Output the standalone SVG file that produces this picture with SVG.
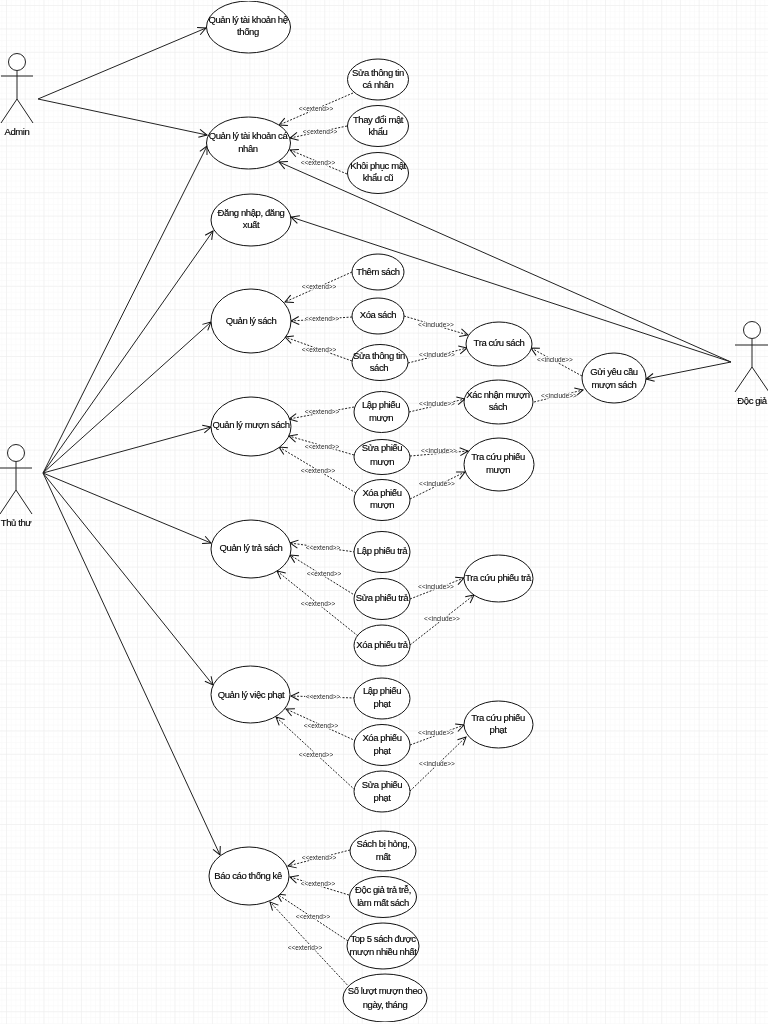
<svg xmlns="http://www.w3.org/2000/svg" width="768" height="1024" viewBox="0 0 768 1024">
<defs>
<pattern id="g" width="4.68" height="5.85" patternUnits="userSpaceOnUse" patternTransform="translate(7 6)"><path d="M4.68 0V5.85H0" fill="none" stroke="#f8f8f8" stroke-width="1"/></pattern>
<pattern id="G" width="18.72" height="23.4" patternUnits="userSpaceOnUse" patternTransform="translate(7 6)"><path d="M18.72 0V23.4H0" fill="none" stroke="#ebebeb" stroke-width="1"/></pattern>
<marker id="a" markerWidth="12" markerHeight="12" refX="9" refY="5" orient="auto" markerUnits="userSpaceOnUse"><path d="M1 1L9 5L1 9" fill="none" stroke="#111" stroke-width="1"/></marker>
<filter id="b" x="0" y="0" width="100%" height="100%"><feGaussianBlur stdDeviation="0.35"/></filter>
</defs>
<style>
.u ellipse{fill:#fff;stroke:#111;stroke-width:1}
text{font-family:"Liberation Sans",Arial,sans-serif;font-size:9.5px;letter-spacing:-.4px;fill:#000;stroke:#000;stroke-width:.15px;text-anchor:middle}
.s{stroke:#222;stroke-width:1;fill:none;marker-end:url(#a)}
.d{stroke:#222;stroke-width:1;stroke-dasharray:2 1.5;fill:none;marker-end:url(#a)}
text.l{font-size:6.5px;letter-spacing:0;fill:#222;paint-order:stroke;stroke:#fff;stroke-width:1.5px}
.p{stroke:#222;stroke-width:1;fill:none}
.p circle{fill:#fff}
</style>
<rect width="768" height="1024" fill="#fff"/>
<rect width="768" height="1024" fill="url(#g)"/>
<rect width="768" height="1024" fill="url(#G)"/>
<g filter="url(#b)">
<g id="connectors">
<line class="s" x1="38" y1="99" x2="206" y2="28"/>
<line class="s" x1="38" y1="99" x2="207" y2="135"/>
<line class="s" x1="43" y1="473" x2="207" y2="146"/>
<line class="s" x1="43" y1="473" x2="213" y2="231"/>
<line class="s" x1="43" y1="473" x2="211" y2="322"/>
<line class="s" x1="43" y1="473" x2="211" y2="427"/>
<line class="s" x1="43" y1="473" x2="211" y2="543"/>
<line class="s" x1="43" y1="473" x2="213" y2="685"/>
<line class="s" x1="43" y1="473" x2="220" y2="855"/>
<line class="s" x1="731" y1="362" x2="279" y2="162"/>
<line class="s" x1="731" y1="362" x2="291" y2="217"/>
<line class="s" x1="731" y1="362" x2="646" y2="379"/>
<line class="d" x1="353" y1="93" x2="279" y2="125"/><text class="l" x="316" y="111">&lt;&lt;extend&gt;&gt;</text>
<line class="d" x1="347" y1="126" x2="290" y2="138"/><text class="l" x="320" y="134">&lt;&lt;extend&gt;&gt;</text>
<line class="d" x1="347" y1="174" x2="290" y2="150"/><text class="l" x="318" y="165">&lt;&lt;extend&gt;&gt;</text>
<line class="d" x1="352" y1="272" x2="285" y2="302"/><text class="l" x="319" y="289">&lt;&lt;extend&gt;&gt;</text>
<line class="d" x1="352" y1="317" x2="291" y2="321"/><text class="l" x="322" y="321">&lt;&lt;extend&gt;&gt;</text>
<line class="d" x1="352" y1="361" x2="285" y2="337"/><text class="l" x="319" y="352">&lt;&lt;extend&gt;&gt;</text>
<line class="d" x1="354" y1="407" x2="289" y2="419"/><text class="l" x="322" y="414">&lt;&lt;extend&gt;&gt;</text>
<line class="d" x1="354" y1="455" x2="289" y2="436"/><text class="l" x="322" y="449">&lt;&lt;extend&gt;&gt;</text>
<line class="d" x1="356" y1="493" x2="279" y2="447"/><text class="l" x="318" y="473">&lt;&lt;extend&gt;&gt;</text>
<line class="d" x1="355" y1="552" x2="290" y2="543"/><text class="l" x="323" y="550">&lt;&lt;extend&gt;&gt;</text>
<line class="d" x1="356" y1="596" x2="290" y2="555"/><text class="l" x="324" y="576">&lt;&lt;extend&gt;&gt;</text>
<line class="d" x1="358" y1="636" x2="277" y2="571"/><text class="l" x="318" y="606">&lt;&lt;extend&gt;&gt;</text>
<line class="d" x1="355" y1="698" x2="291" y2="696"/><text class="l" x="323" y="699">&lt;&lt;extend&gt;&gt;</text>
<line class="d" x1="356" y1="741" x2="286" y2="709"/><text class="l" x="321" y="728">&lt;&lt;extend&gt;&gt;</text>
<line class="d" x1="355" y1="790" x2="276" y2="717"/><text class="l" x="316" y="757">&lt;&lt;extend&gt;&gt;</text>
<line class="d" x1="350" y1="850" x2="288" y2="866"/><text class="l" x="319" y="860">&lt;&lt;extend&gt;&gt;</text>
<line class="d" x1="349" y1="895" x2="290" y2="877"/><text class="l" x="318" y="886">&lt;&lt;extend&gt;&gt;</text>
<line class="d" x1="348" y1="941" x2="277" y2="894"/><text class="l" x="313" y="919">&lt;&lt;extend&gt;&gt;</text>
<line class="d" x1="352" y1="990" x2="270" y2="902"/><text class="l" x="305" y="950">&lt;&lt;extend&gt;&gt;</text>
<line class="d" x1="404" y1="316" x2="468" y2="335"/><text class="l" x="436" y="327">&lt;&lt;include&gt;&gt;</text>
<line class="d" x1="408" y1="363" x2="467" y2="348"/><text class="l" x="437" y="357">&lt;&lt;include&gt;&gt;</text>
<line class="d" x1="409" y1="412" x2="465" y2="399"/><text class="l" x="437" y="406">&lt;&lt;include&gt;&gt;</text>
<line class="d" x1="534" y1="402" x2="583" y2="390"/><text class="l" x="559" y="398">&lt;&lt;include&gt;&gt;</text>
<line class="d" x1="582" y1="376" x2="531" y2="348"/><text class="l" x="555" y="362">&lt;&lt;include&gt;&gt;</text>
<line class="d" x1="410" y1="456" x2="468" y2="451"/><text class="l" x="439" y="453">&lt;&lt;include&gt;&gt;</text>
<line class="d" x1="410" y1="499" x2="465" y2="472"/><text class="l" x="437" y="486">&lt;&lt;include&gt;&gt;</text>
<line class="d" x1="410" y1="599" x2="464" y2="578"/><text class="l" x="436" y="589">&lt;&lt;include&gt;&gt;</text>
<line class="d" x1="410" y1="645" x2="474" y2="595"/><text class="l" x="442" y="621">&lt;&lt;include&gt;&gt;</text>
<line class="d" x1="410" y1="745" x2="464" y2="725"/><text class="l" x="436" y="735">&lt;&lt;include&gt;&gt;</text>
<line class="d" x1="410" y1="791" x2="466" y2="737"/><text class="l" x="437" y="766">&lt;&lt;include&gt;&gt;</text>
</g>
<g id="admin" class="p"><circle cx="17" cy="62" r="8.5"/><path d="M17 71V99M1 76H33M17 99L1 123M17 99L33 123"/></g><text x="17" y="135">Admin</text>
<g id="thu-thu" class="p"><circle cx="16" cy="453" r="8.5"/><path d="M16 462V490M0 468H32M16 490L0 514M16 490L32 514"/></g><text x="16" y="526">Thủ thư</text>
<g id="doc-gia" class="p"><circle cx="752" cy="330" r="8.5"/><path d="M752 339V367M735 345H768M752 367L735 392M752 367L769 392"/></g><text x="752" y="404">Độc giả</text>
<g id="uc1" class="u"><ellipse cx="248.5" cy="27" rx="42" ry="26"/><text x="248" y="23">Quản lý tài khoản hệ</text><text x="248" y="35">thống</text></g>
<g id="uc2" class="u"><ellipse cx="248.5" cy="143" rx="42" ry="26"/><text x="248" y="139">Quản lý tài khoản cá</text><text x="248" y="152">nhân</text></g>
<g id="uc3" class="u"><ellipse cx="251" cy="220" rx="40" ry="26"/><text x="251" y="216">Đăng nhập, đăng</text><text x="251" y="228">xuất</text></g>
<g id="uc4" class="u"><ellipse cx="251" cy="321" rx="40" ry="32"/><text x="251" y="324">Quản lý sách</text></g>
<g id="uc5" class="u"><ellipse cx="251" cy="426.5" rx="40" ry="29.5"/><text x="251" y="428">Quản lý mượn sách</text></g>
<g id="uc6" class="u"><ellipse cx="251" cy="549" rx="40" ry="29"/><text x="251" y="551">Quản lý trả sách</text></g>
<g id="uc7" class="u"><ellipse cx="250.5" cy="694.5" rx="39.5" ry="28.5"/><text x="251" y="698">Quản lý việc phạt</text></g>
<g id="uc8" class="u"><ellipse cx="249" cy="876" rx="40" ry="29"/><text x="248" y="879">Báo cáo thống kê</text></g>
<g id="uc9" class="u"><ellipse cx="378" cy="79.5" rx="30.5" ry="20.5"/><text x="378" y="76">Sửa thông tin</text><text x="378" y="88">cá nhân</text></g>
<g id="uc10" class="u"><ellipse cx="378" cy="126" rx="30.5" ry="20.5"/><text x="378" y="123">Thay đổi mật</text><text x="378" y="135">khẩu</text></g>
<g id="uc11" class="u"><ellipse cx="378" cy="173" rx="30.5" ry="20.5"/><text x="378" y="169">Khôi phục mật</text><text x="378" y="181">khẩu cũ</text></g>
<g id="uc12" class="u"><ellipse cx="378" cy="272" rx="26" ry="18"/><text x="378" y="275">Thêm sách</text></g>
<g id="uc13" class="u"><ellipse cx="378" cy="316" rx="26" ry="18"/><text x="378" y="318">Xóa sách</text></g>
<g id="uc14" class="u"><ellipse cx="380" cy="362.5" rx="28" ry="18"/><text x="379" y="359">Sửa thông tin</text><text x="379" y="371">sách</text></g>
<g id="uc15" class="u"><ellipse cx="381.5" cy="412" rx="27.5" ry="20.5"/><text x="381" y="408">Lập phiếu</text><text x="381" y="421">mượn</text></g>
<g id="uc16" class="u"><ellipse cx="382" cy="457" rx="28" ry="17.5"/><text x="382" y="451">Sửa phiếu</text><text x="382" y="465">mượn</text></g>
<g id="uc17" class="u"><ellipse cx="382" cy="500" rx="28" ry="20.5"/><text x="382" y="496">Xóa phiếu</text><text x="382" y="508">mượn</text></g>
<g id="uc18" class="u"><ellipse cx="499" cy="344" rx="33" ry="22"/><text x="499" y="346">Tra cứu sách</text></g>
<g id="uc19" class="u"><ellipse cx="498.5" cy="402" rx="34.5" ry="22"/><text x="498" y="398">Xác nhận mượn</text><text x="498" y="410">sách</text></g>
<g id="uc20" class="u"><ellipse cx="499" cy="464.5" rx="35" ry="26.5"/><text x="498" y="460">Tra cứu phiếu</text><text x="498" y="473">mượn</text></g>
<g id="uc21" class="u"><ellipse cx="614" cy="378" rx="32" ry="25"/><text x="614" y="375">Gửi yêu cầu</text><text x="614" y="388">mượn sách</text></g>
<g id="uc22" class="u"><ellipse cx="382" cy="552" rx="28" ry="20.5"/><text x="382" y="554">Lập phiếu trả</text></g>
<g id="uc23" class="u"><ellipse cx="382" cy="599" rx="28" ry="20.5"/><text x="382" y="601">Sửa phiếu trả</text></g>
<g id="uc24" class="u"><ellipse cx="382" cy="645.5" rx="28" ry="20.5"/><text x="382" y="648">Xóa phiếu trả</text></g>
<g id="uc25" class="u"><ellipse cx="498.5" cy="578.5" rx="34.5" ry="23.5"/><text x="498" y="581">Tra cứu phiếu trả</text></g>
<g id="uc26" class="u"><ellipse cx="382" cy="698.5" rx="28" ry="20.5"/><text x="382" y="694">Lập phiếu</text><text x="382" y="707">phạt</text></g>
<g id="uc27" class="u"><ellipse cx="382" cy="745" rx="28" ry="20.5"/><text x="382" y="741">Xóa phiếu</text><text x="382" y="754">phạt</text></g>
<g id="uc28" class="u"><ellipse cx="382" cy="791.5" rx="28" ry="20.5"/><text x="382" y="788">Sửa phiếu</text><text x="382" y="801">phạt</text></g>
<g id="uc29" class="u"><ellipse cx="498.5" cy="724.5" rx="34.5" ry="23.5"/><text x="498" y="721">Tra cứu phiếu</text><text x="498" y="733">phạt</text></g>
<g id="uc30" class="u"><ellipse cx="383" cy="851" rx="33" ry="20"/><text x="383" y="847">Sách bị hỏng,</text><text x="383" y="860">mất</text></g>
<g id="uc31" class="u"><ellipse cx="383" cy="897" rx="33.5" ry="20.5"/><text x="383" y="893">Độc giả trả trễ,</text><text x="383" y="906">làm mất sách</text></g>
<g id="uc32" class="u"><ellipse cx="383" cy="946" rx="36" ry="23"/><text x="383" y="942">Top 5 sách được</text><text x="383" y="955">mượn nhiều nhất</text></g>
<g id="uc33" class="u"><ellipse cx="385" cy="998" rx="42" ry="24"/><text x="385" y="994">Số lượt mượn theo</text><text x="385" y="1008">ngày, tháng</text></g>
</g>
</svg>
